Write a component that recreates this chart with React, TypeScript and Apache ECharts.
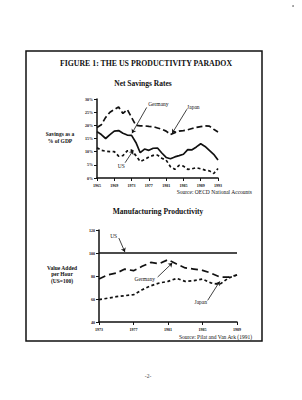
import React, { useEffect, useRef } from "react";
import * as echarts from "echarts";

// Net savings rates (% of GDP), 1965–1993
const savingYears = [
  1965, 1966, 1967, 1968, 1969, 1970, 1971, 1972, 1973, 1974, 1975, 1976, 1977, 1978, 1979,
  1980, 1981, 1982, 1983, 1984, 1985, 1986, 1987, 1988, 1989, 1990, 1991, 1992, 1993,
];
const japanSavings = [
  19.2, 20.2, 23, 25, 26, 27, 24.5, 26, 23, 20, 19.8, 19.8, 19.6, 19.5, 19, 18.5, 17.8, 16.5,
  17.2, 17.8, 18, 18.3, 18.8, 19.2, 19.5, 19.8, 19.7, 18.5, 17.5,
];
const germanySavings = [
  17.6, 16.5, 15, 16.5, 17.8, 18, 17, 16.3, 16.2, 13.5, 9.6, 11, 10.5, 11.3, 11.4, 9.5, 7.8, 7.3,
  8, 8.5, 9, 10.8, 10.7, 11.8, 13, 12, 10.5, 9, 6.8,
];
const usSavings = [
  11.5, 10.5, 10.2, 10, 10, 8.3, 8.5, 10.3, 10.6, 8.5, 6.3, 7, 8, 8.6, 8.7, 7.5, 6.8, 4.3, 3.3,
  4.8, 4.5, 3.3, 3.5, 3.9, 3.5, 3, 2.7, 1.7, 3.6,
];
const savingTicks = [1965, 1969, 1973, 1977, 1981, 1985, 1989, 1993];

// Manufacturing value added per hour (US = 100), 1973–1989
const prodYears = [
  1973, 1974, 1975, 1976, 1977, 1978, 1979, 1980, 1981, 1982, 1983, 1984, 1985, 1986, 1987,
  1988, 1989,
];
const usProductivity = [100, 100, 100, 100, 100, 100, 100, 100, 100, 100, 100, 100, 100, 100, 100, 100, 100];
const germanyProductivity = [
  77.3, 81, 82.5, 86, 84.6, 88.4, 91.8, 90.7, 94.2, 90.4, 87, 86, 84.9, 82.5, 79.1, 79, 80.9,
];
const japanProductivity = [
  59.4, 60.7, 62, 62.9, 63.7, 68, 71.5, 73.9, 75.3, 77.9, 75.3, 76, 77.4, 73.9, 72.7, 78.2, 80.9,
];
const prodTicks = [1973, 1977, 1981, 1985, 1989];

const SERIF = '"Liberation Serif", "DejaVu Serif", serif';
const INK = "#111";

const zip = (xs: number[], ys: number[]) => xs.map((x, i) => [x, ys[i]]);

const arrow = (from: number[], to: number[]) => [{ coord: from }, { coord: to }];

const annotations = (xAxisIndex: number, arrows: any[], labels: any[]) => ({
  type: "line",
  xAxisIndex,
  yAxisIndex: xAxisIndex,
  data: [],
  silent: true,
  markLine: {
    silent: true,
    symbol: ["none", "arrow"],
    symbolSize: 4,
    label: { show: false },
    lineStyle: { color: INK, width: 0.8, type: "solid" },
    data: arrows,
  },
  markPoint: {
    silent: true,
    symbol: "circle",
    symbolSize: 0,
    label: {
      show: true,
      position: "inside",
      formatter: "{b}",
      color: INK,
      fontFamily: SERIF,
      fontSize: 5.5,
    },
    data: labels,
  },
});

const valueX = (min: number, max: number, ticks: number[], gridIndex: number) => ({
  type: "value",
  gridIndex,
  min,
  max,
  splitLine: { show: false },
  axisLine: { lineStyle: { color: INK, width: 1.5 } },
  axisTick: { customValues: ticks, length: 3, lineStyle: { color: INK, width: 1 } },
  axisLabel: {
    customValues: ticks,
    color: INK,
    fontFamily: SERIF,
    fontSize: 4,
    fontWeight: "bold",
    margin: 5,
    formatter: (v: number) => String(v),
  },
});

const valueY = (
  min: number,
  max: number,
  interval: number,
  gridIndex: number,
  fmt: (v: number) => string
) => ({
  type: "value",
  gridIndex,
  min,
  max,
  interval,
  splitLine: { show: false },
  axisLine: { show: true, lineStyle: { color: INK, width: 1.5 } },
  axisTick: { show: true, length: 3, lineStyle: { color: INK, width: 1 } },
  axisLabel: {
    color: INK,
    fontFamily: SERIF,
    fontSize: 4,
    fontWeight: "bold",
    margin: 4,
    formatter: fmt,
  },
});

const lineSeries = (data: number[][], idx: number, dash: any, width = 1.7) => ({
  type: "line",
  xAxisIndex: idx,
  yAxisIndex: idx,
  data,
  showSymbol: false,
  symbol: "none",
  silent: true,
  lineStyle: { color: INK, width, type: dash },
});

export default function App() {
  const ref = useRef<HTMLDivElement>(null);

  useEffect(() => {
    if (!ref.current) return;
    const chart = echarts.init(ref.current, undefined, { renderer: "svg" });

    const text = (x: number, y: number, t: string, size: number, opts: any = {}) => ({
      type: "text",
      x,
      y,
      silent: true,
      style: {
        text: t,
        fill: INK,
        fontFamily: SERIF,
        fontSize: size,
        align: "center",
        verticalAlign: "middle",
        ...opts,
      },
    });

    chart.setOption({
      animation: false,
      backgroundColor: "#fff",
      grid: [
        { left: 97, top: 99, width: 121, height: 79 },
        { left: 99, top: 230, width: 138, height: 92 },
      ],
      xAxis: [valueX(1965, 1993, savingTicks, 0), valueX(1973, 1989, prodTicks, 1)],
      yAxis: [
        valueY(0, 30, 5, 0, (v) => `${v}%`),
        valueY(40, 120, 20, 1, (v) => String(v)),
      ],
      series: [
        lineSeries(zip(savingYears, japanSavings), 0, [6, 3]),
        lineSeries(zip(savingYears, germanySavings), 0, "solid"),
        lineSeries(zip(savingYears, usSavings), 0, [3, 2.5]),
        annotations(
          0,
          [
            arrow([1976.5, 26.8], [1973.1, 17]),
            arrow([1985.8, 26.1], [1982.4, 17]),
            arrow([1971.5, 5.8], [1973.4, 10.5]),
          ],
          [
            { name: "Germany", coord: [1979.2, 28.1] },
            { name: "Japan", coord: [1987.3, 26.8] },
            { name: "US", coord: [1970.6, 4.5] },
          ]
        ),
        lineSeries(zip(prodYears, usProductivity), 1, "solid", 1.6),
        lineSeries(zip(prodYears, germanyProductivity), 1, [7, 4]),
        lineSeries(zip(prodYears, japanProductivity), 1, [3, 2.5]),
        annotations(
          1,
          [
            arrow([1975.3, 113], [1976, 100.9]),
            arrow([1979.8, 79.1], [1981.5, 91.3]),
            arrow([1985.6, 58.8], [1987, 75.3]),
          ],
          [
            { name: "US", coord: [1974.7, 115] },
            { name: "Germany", coord: [1978.3, 77.4] },
            { name: "Japan", coord: [1984.8, 57] },
          ]
        ),
      ],
      graphic: [
        {
          type: "rect",
          silent: true,
          shape: { x: 26, y: 51, width: 236, height: 290 },
          style: { fill: "none", stroke: INK, lineWidth: 1.5 },
        },
        text(146, 63, "FIGURE 1: THE US PRODUCTIVITY PARADOX", 7.8, { fontWeight: "bold" }),
        text(143, 83, "Net Savings Rates", 7.5, { fontWeight: "bold" }),
        text(60, 137.5, "Savings as a\n% of GDP", 5.5, { fontWeight: "bold", lineHeight: 7 }),
        text(252, 192, "Source: OECD National Accounts", 5.5, { align: "right" }),
        text(158, 211, "Manufacturing Productivity", 7.5, { fontWeight: "bold" }),
        text(62, 274, "Value Added\nper Hour\n(US=100)", 5.5, { fontWeight: "bold", lineHeight: 6.5 }),
        text(252, 337, "Source: Pilat and Van Ark (1991)", 5.5, { align: "right" }),
        text(148, 376, "-2-", 5.5, { fill: "#444" }),
        {
          type: "circle",
          silent: true,
          shape: { cx: 293, cy: 6, r: 0.8 },
          style: { fill: "#777" },
        },
      ],
    });

    return () => chart.dispose();
  }, []);

  return (
    <div
      ref={ref}
      style={{ position: "fixed", left: 0, top: 0, width: 302, height: 400, background: "#fff" }}
    />
  );
}
